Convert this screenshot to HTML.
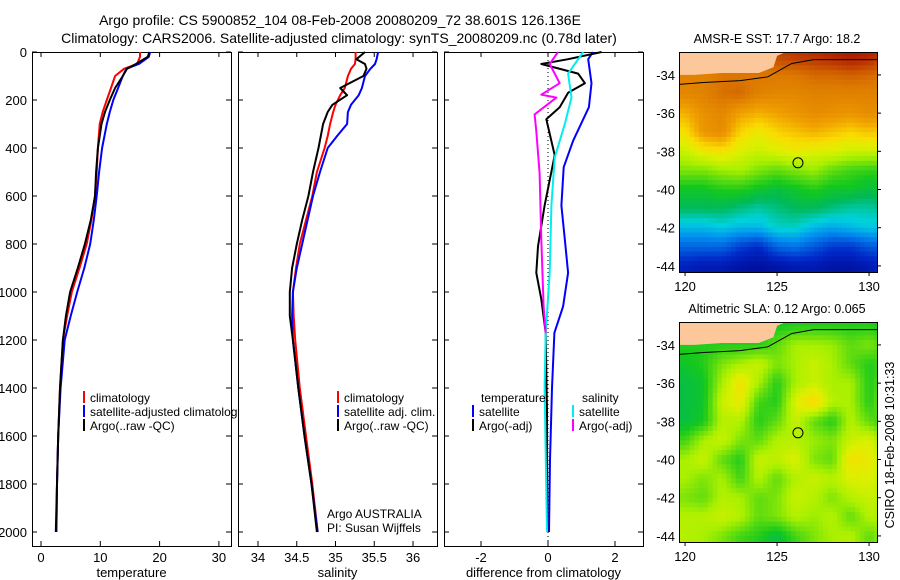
<!DOCTYPE html>
<html><head><meta charset="utf-8"><style>
html,body{margin:0;padding:0;background:#fff;}
svg{display:block;font-family:"Liberation Sans",sans-serif;}
</style></head><body>
<svg id="fig" width="900" height="580" viewBox="0 0 900 580"></svg>
<script>
// ---------- data ----------
const depthT = [0,20,50,70,100,150,200,250,300,400,500,600,700,800,900,1000,1100,1200,1400,1600,1800,2000];
const tempClim = [16.7,16.7,16.2,14,12.5,11.8,11.1,10.4,9.9,9.6,9.4,9.1,8.5,7.7,6.5,5.2,4.4,3.7,3.2,2.9,2.7,2.6];
const tempSat = [18.4,18.2,16.5,14.4,13.8,13,12.2,11.6,11.1,10.3,9.8,9.4,8.9,8.3,7.3,6.1,5,4,3.3,2.9,2.7,2.6];
const tempArgo = [18.3,18.0,16.0,14.5,13.8,12.5,11.6,10.8,10.2,9.6,9.3,9.1,8.4,7.4,6.2,4.9,4.2,3.7,3.2,2.9,2.7,2.5];
const depthS = [0,30,50,70,100,150,180,220,250,300,350,400,500,600,700,800,900,1000,1100,1200,1400,1600,1800,2000];
const salClim = [35.26,35.26,35.25,35.2,35.16,35.12,35.06,35.0,34.97,34.93,34.9,34.86,34.76,34.7,34.62,34.54,34.49,34.45,34.46,34.48,34.54,34.62,34.7,34.77];
const salSat = [35.55,35.53,35.51,35.45,35.38,35.34,35.3,35.2,35.16,35.15,35.02,34.9,34.8,34.71,34.64,34.57,34.5,34.45,34.44,34.45,34.52,34.6,34.69,34.77];
const salArgo = [35.38,35.27,35.38,35.4,35.36,35.06,35.15,34.96,34.9,34.84,34.81,34.78,34.71,34.65,34.57,34.5,34.44,34.41,34.41,34.45,34.52,34.6,34.69,34.76];
const dDepthTS = [0,30,130,230,370,480,640,780,920,1060,1170,1400,1700,2000];
const diffTSat = [1.34,1.2,1.3,1.22,0.75,0.47,0.4,0.5,0.6,0.45,0.19,0.12,0.06,0.03];
const dDepthTA = [0,30,50,90,130,170,230,280,430,640,810,920,1030,1170,1500,2000];
const diffTArgo = [1.6,0.6,-0.2,0.9,1.1,0.6,0.35,-0.05,0.2,-0.1,-0.3,-0.35,-0.2,-0.07,-0.03,-0.02];
const dDepthSS = [0,90,190,300,440,640,920,1170,1400,2000];
const diffSSat = [1.05,0.6,0.7,0.5,0.2,0.1,0.05,-0.07,-0.1,-0.03];
const dDepthSA = [0,50,130,178,190,260,330,505,780,1060,1170];
const diffSArgo = [0.3,0.05,0.35,-0.2,0.25,-0.4,-0.35,-0.25,-0.2,-0.13,-0.07];
const depthTicks = [0,200,400,600,800,1000,1200,1400,1600,1800,2000];
const tempTicks = [0,10,20,30];
const salTicks = [34,34.5,35,35.5,36];
const diffTicks = [-2,0,2];
const lonTicks = [120,125,130];
const latTicks = [-34,-36,-38,-40,-42,-44];
// map grids: rows lat -33..-44 (1 deg), cols lon 120..132
const sstGrid = [
[.82,.82,.82,.82,.84,.86,.88,.89,.91,.93,.91,.87,.85],
[.78,.78,.80,.80,.80,.80,.80,.82,.82,.83,.82,.80,.80],
[.77,.78,.81,.82,.78,.77,.77,.78,.78,.78,.78,.78,.78],
[.70,.75,.77,.72,.70,.72,.74,.76,.75,.74,.76,.74,.70],
[.64,.74,.76,.66,.62,.66,.68,.70,.68,.66,.68,.66,.62],
[.58,.62,.64,.60,.58,.60,.62,.60,.60,.58,.58,.58,.58],
[.52,.52,.54,.55,.52,.50,.52,.54,.50,.48,.47,.47,.50],
[.44,.44,.46,.46,.44,.42,.44,.46,.44,.44,.42,.44,.44],
[.40,.40,.40,.38,.36,.38,.40,.40,.38,.36,.36,.38,.40],
[.30,.30,.32,.30,.30,.34,.34,.30,.28,.30,.32,.30,.28],
[.20,.20,.20,.15,.12,.20,.22,.18,.14,.14,.18,.20,.20],
[.10,.08,.08,.06,.05,.06,.08,.08,.06,.06,.08,.10,.10]];
const slaGrid = [
[.46,.46,.46,.46,.46,.45,.46,.46,.46,.46,.46,.44,.42],
[.46,.46,.46,.46,.46,.50,.55,.55,.54,.50,.52,.48,.44],
[.44,.46,.52,.55,.58,.52,.55,.58,.55,.50,.46,.48,.46],
[.42,.44,.55,.64,.55,.46,.55,.58,.55,.55,.46,.50,.48],
[.42,.44,.58,.62,.48,.46,.60,.66,.56,.55,.46,.54,.52],
[.42,.45,.56,.56,.46,.50,.58,.50,.46,.56,.50,.46,.52],
[.48,.55,.58,.52,.50,.56,.56,.54,.52,.58,.60,.52,.46],
[.55,.58,.50,.46,.58,.57,.60,.52,.50,.64,.62,.56,.48],
[.55,.52,.55,.48,.56,.50,.56,.58,.56,.60,.60,.56,.55],
[.52,.50,.56,.55,.50,.52,.58,.56,.52,.56,.58,.56,.56],
[.56,.56,.58,.56,.50,.52,.56,.54,.56,.50,.56,.55,.56],
[.56,.55,.52,.48,.46,.42,.48,.52,.55,.56,.50,.55,.56]];
const landLon = [119.6,125.7,125.0,124.8,124.0,122.0,120.5,119.6];
const landLat = [-32.7,-32.7,-33.0,-33.6,-33.9,-33.9,-34.0,-34.0];
const contLon = [119.6,121,123,124.5,125.8,127,131.2,132.3,132.6];
const contLat = [-34.5,-34.4,-34.3,-34.1,-33.4,-33.2,-33.2,-33.7,-34.0];
const argoLon = 126.136, argoLat = -38.601;

// ---------- helpers ----------
const NS="http://www.w3.org/2000/svg";
const svg=document.getElementById('fig');
function mk(tag,attrs,parent){const e=document.createElementNS(NS,tag);for(const k in attrs)e.setAttribute(k,attrs[k]);(parent||svg).appendChild(e);return e;}
function txt(x,y,s,size,anchor,parent){const t=mk('text',{x:x,y:y,'font-size':size,'text-anchor':anchor||'start',fill:'#000'},parent);t.textContent=s;return t;}
const Y0=52, PXM=0.24, YB=546;
const yD=d=>Y0+d*PXM;
const panels=[
 {x0:32,x1:231,xa:41,k:5.93,v0:0},
 {x0:238,x1:437,xa:258,k:77.5,v0:34},
 {x0:444,x1:643,xa:548,k:33.5,v0:0}];
function xf(p,v){return p.xa+(v-p.v0)*p.k;}
function line(p,vals,deps,color,name){
  let d='';vals.forEach((v,i)=>{d+=(i?'L':'M')+xf(p,v).toFixed(1)+' '+yD(deps[i]).toFixed(1);});
  const e=mk('path',{d:d,fill:'none',stroke:color,'stroke-width':2,'stroke-linejoin':'round'});
  
  
}
function frame(p,ticks,name,label){
  const g=mk('g',{});
  
  
  mk('rect',{x:p.x0+.5,y:Y0+.5,width:p.x1-p.x0,height:YB-Y0,fill:'none',stroke:'#000','stroke-width':1},g);
  ticks.forEach(v=>{const x=xf(p,v);
    mk('line',{x1:x,x2:x,y1:YB,y2:YB-5,stroke:'#000'},g);
    mk('line',{x1:x,x2:x,y1:Y0,y2:Y0+5,stroke:'#000'},g);
    const t=txt(x,562,String(v),13,'middle',g);
    
    
  });
  depthTicks.forEach(d=>{const y=yD(d);
    mk('line',{x1:p.x0,x2:p.x0+5,y1:y,y2:y,stroke:'#000'},g);
    mk('line',{x1:p.x1,x2:p.x1-5,y1:y,y2:y,stroke:'#000'},g);});
  const l=txt((p.x0+p.x1)/2,577,label,13,'middle',g);
  
  
}
let t1=txt(340,25,'Argo profile: CS 5900852_104 08-Feb-2008 20080209_72 38.601S 126.136E',14,'middle');

let t2=txt(339,43,'Climatology: CARS2006. Satellite-adjusted climatology: synTS_20080209.nc (0.78d later)',14,'middle');

depthTicks.forEach(d=>{const t=txt(27,yD(d)+5,String(d),13,'end');
  
  });
frame(panels[0],tempTicks,'temperature-panel','temperature');
frame(panels[1],salTicks,'salinity-panel','salinity');
frame(panels[2],diffTicks,'difference-panel','difference from climatology');
mk('line',{x1:548,x2:548,y1:Y0,y2:YB,stroke:'#000','stroke-dasharray':'1 3'});
line(panels[0],tempClim,depthT,'#f00','temp-climatology-line');
line(panels[0],tempSat,depthT,'#00f','temp-satellite-line');
line(panels[0],tempArgo,depthT,'#000','temp-argo-line');
line(panels[1],salClim,depthS,'#f00','sal-climatology-line');
line(panels[1],salSat,depthS,'#00f','sal-satellite-line');
line(panels[1],salArgo,depthS,'#000','sal-argo-line');
line(panels[2],diffTSat,dDepthTS,'#00f','diff-temp-satellite-line');
line(panels[2],diffTArgo,dDepthTA,'#000','diff-temp-argo-line');
line(panels[2],diffSSat,dDepthSS,'#0ee','diff-sal-satellite-line');
line(panels[2],diffSArgo,dDepthSA,'#f0f','diff-sal-argo-line');
// legends
mk('clipPath',{id:'legclip'});
mk('rect',{x:0,y:0,width:237,height:580},svg.lastChild);
function legend(x,y,color,label,clip){
  const g=mk('g',clip?{'clip-path':'url(#legclip)'}:{});
  
  
  if(color) mk('rect',{x:x,y:y-11,width:2,height:12,fill:color},g);
  txt(x+7,y,label,12,'start',g);
}
legend(83,402,'#f00','climatology');
legend(83,416,'#00f','satellite-adjusted climatology',true);
legend(83,430,'#000','Argo(..raw -QC)');
legend(337,402,'#f00','climatology');
legend(337,416,'#00f','satellite adj. clim.');
legend(337,430,'#000','Argo(..raw -QC)');
legend(474,402,null,'temperature');
legend(472,416,'#00f','satellite');
legend(472,430,'#000','Argo(-adj)');
legend(575,402,null,'salinity');
legend(572,416,'#0ee','satellite');
legend(572,430,'#f0f','Argo(-adj)');
let a1=txt(327,518,'Argo AUSTRALIA',12);
let a2=txt(327,532,'PI: Susan Wijffels',12);

// ---------- maps ----------
const stops=[[0,[0,0,130]],[.12,[0,40,200]],[.25,[0,140,240]],[.33,[0,210,220]],[.40,[0,185,90]],[.45,[20,200,30]],[.55,[170,240,0]],[.60,[220,240,0]],[.65,[250,220,0]],[.72,[240,160,0]],[.80,[220,120,0]],[.90,[180,40,0]],[1,[140,0,0]]];
function cmap(v){for(let i=1;i<stops.length;i++){if(v<=stops[i][0]){const a=stops[i-1],b=stops[i],f=(v-a[0])/(b[0]-a[0]);
  const c=a[1].map((c0,j)=>Math.round(c0+(b[1][j]-c0)*f));return 'rgb('+c.join(',')+')';}}return 'rgb(140,0,0)';}
function sample(grid,r,c){
  const R=grid.length-1,C=grid[0].length-1;
  r=Math.max(0,Math.min(R,r));c=Math.max(0,Math.min(C,c));
  const r0=Math.floor(r),c0=Math.floor(c),r1=Math.min(R,r0+1),c1=Math.min(C,c0+1),fr=r-r0,fc=c-c0;
  return grid[r0][c0]*(1-fr)*(1-fc)+grid[r0][c1]*(1-fr)*fc+grid[r1][c0]*fr*(1-fc)+grid[r1][c1]*fr*fc;
}
function drawMap(top,grid,name,title){
  const m={x0:679,x1:877,y0:top,y1:top+220,lon0:119.67,lat0:-32.8,kx:18.4,ky:19.1};
  const X=lo=>m.x0+(lo-m.lon0)*m.kx, Y=la=>m.y0+(m.lat0-la)*m.ky;
  const g=mk('g',{});
  
  
  mk('clipPath',{id:'c'+top},g);
  mk('rect',{x:m.x0,y:m.y0,width:m.x1-m.x0,height:m.y1-m.y0},g.lastChild);
  const cg=mk('g',{'clip-path':'url(#c'+top+')'},g);
  const step=0.25;
  for(let la=-32.75;la>=-44.75;la-=step){
    for(let lo=119.5;lo<=132.75;lo+=step){
      const v=sample(grid,-33-(la-step/2)+0,lo+step/2-120);
      const cell=mk('rect',{x:X(lo).toFixed(2),y:Y(la).toFixed(2),width:(m.kx*step+0.5).toFixed(2),height:(m.ky*step+0.5).toFixed(2),fill:cmap(v)},cg);
      
      
    }
  }
  let pd='';landLon.forEach((lo,i)=>{pd+=(i?'L':'M')+X(lo)+' '+Y(landLat[i]);});
  const land=mk('path',{d:pd+'Z',fill:'#fcc89b',stroke:'none'},cg);
  
  let cd='';contLon.forEach((lo,i)=>{cd+=(i?'L':'M')+X(lo)+' '+Y(contLat[i]);});
  const ct=mk('path',{d:cd,fill:'none',stroke:'#000','stroke-width':1},cg);
  
  const circ=mk('circle',{cx:X(argoLon),cy:Y(argoLat),r:5,fill:'none',stroke:'#000','stroke-width':1},g);
  
  mk('rect',{x:m.x0+.5,y:m.y0+.5,width:m.x1-m.x0,height:m.y1-m.y0,fill:'none',stroke:'#000'},g);
  lonTicks.forEach(lo=>{mk('line',{x1:X(lo),x2:X(lo),y1:m.y1,y2:m.y1+4,stroke:'#000'},g);
    const t=txt(X(lo),m.y1+19,String(lo),13,'middle',g);
    });
  latTicks.forEach(la=>{mk('line',{x1:m.x1,x2:m.x1+4,y1:Y(la),y2:Y(la),stroke:'#000'},g);
    const t=txt(675,Y(la)+5,String(la),13,'end',g);
    });
  const tt=txt(777,top-9,title,12.5,'middle',g);
  
}
drawMap(52,sstGrid,'sst-map','AMSR-E SST: 17.7 Argo: 18.2');
drawMap(322,slaGrid,'sla-map','Altimetric SLA: 0.12 Argo: 0.065');
const st=mk('text',{x:0,y:0,'font-size':12.5,'text-anchor':'middle',transform:'translate(894,445) rotate(-90)'});
st.textContent='CSIRO 18-Feb-2008 10:31:33';

</script>
</body></html>
